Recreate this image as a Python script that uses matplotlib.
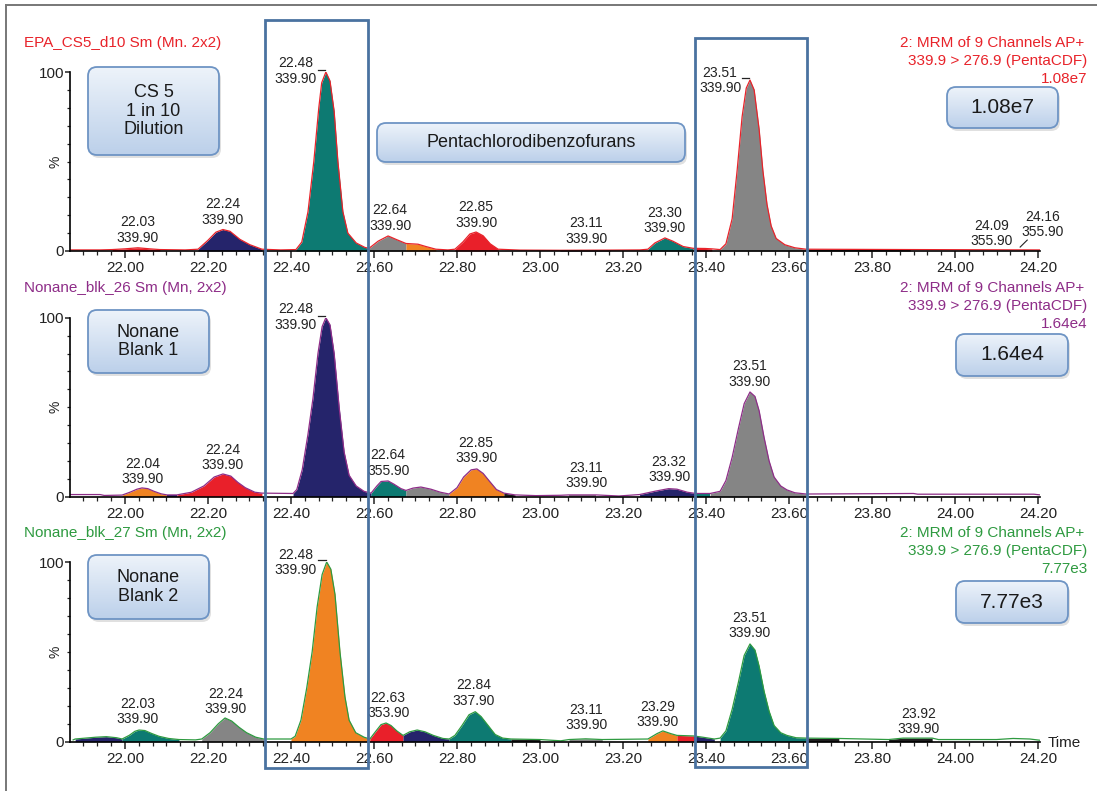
import numpy as np
import matplotlib.pyplot as plt
from matplotlib.patches import FancyBboxPatch, Rectangle
from matplotlib.colors import LinearSegmentedColormap
from matplotlib.ticker import MultipleLocator, FixedLocator

plt.rcParams['font.family'] = ['Liberation Sans', 'DejaVu Sans']

W, H = 1097, 791

# ---- chromatogram traces (time in min, intensity in %) ----
p1_trace = [(21.868, 0.6), (21.940, 0.6), (21.969, 0.8), (22.000, 1.2), (22.031, 1.8), (22.060, 1.2),
            (22.084, 0.8), (22.145, 0.6), (22.176, 1.0), (22.200, 6.0), (22.219, 10.5), (22.236, 12.0),
            (22.253, 11.0), (22.277, 6.5), (22.301, 3.5), (22.330, 1.0), (22.375, 0.6), (22.412, 0.8),
            (22.426, 5.0), (22.441, 22.0), (22.455, 50.0), (22.467, 80.0), (22.474, 94.0), (22.484, 100.0),
            (22.494, 95.0), (22.504, 78.0), (22.513, 50.0), (22.525, 22.0), (22.537, 10.0), (22.557, 4.5),
            (22.578, 2.0), (22.588, 1.5), (22.610, 5.5), (22.634, 8.4), (22.653, 6.5), (22.677, 4.2),
            (22.706, 3.8), (22.725, 2.5), (22.749, 1.0), (22.778, 0.6), (22.795, 1.0), (22.814, 5.0),
            (22.831, 9.5), (22.846, 10.6), (22.863, 8.5), (22.880, 4.0), (22.899, 1.0), (22.952, 0.5),
            (23.048, 0.4), (23.169, 0.5), (23.241, 0.6), (23.260, 1.0), (23.277, 4.5), (23.301, 7.3),
            (23.320, 5.5), (23.345, 2.5), (23.369, 1.5), (23.398, 1.4), (23.414, 1.2), (23.434, 0.8),
            (23.448, 4.0), (23.463, 18.0), (23.475, 45.0), (23.487, 75.0), (23.497, 91.0), (23.506, 95.5),
            (23.516, 90.0), (23.528, 68.0), (23.537, 45.0), (23.547, 26.0), (23.557, 14.0), (23.569, 7.0),
            (23.590, 3.5), (23.614, 1.8), (23.641, 1.0), (23.892, 0.8), (24.205, 0.6)]
p1_segs = [(21.969, 22.084, 'red'), (22.176, 22.330, 'navy'), (22.412, 22.588, 'teal'),
           (22.588, 22.677, 'gray'), (22.677, 22.749, 'orange'), (22.795, 22.899, 'red'),
           (23.048, 23.169, 'plum'), (23.260, 23.369, 'teal'), (23.369, 23.414, 'red'),
           (23.434, 23.641, 'gray'), (23.641, 23.892, 'black')]

p2_trace = [(21.868, 1.2), (21.940, 1.2), (21.950, 0.7), (21.993, 0.9), (22.012, 2.5), (22.029, 4.2),
            (22.041, 4.9), (22.055, 4.5), (22.070, 3.0), (22.087, 1.6), (22.101, 1.0), (22.125, 1.0),
            (22.160, 2.5), (22.190, 6.0), (22.215, 11.0), (22.236, 12.7), (22.255, 11.5), (22.272, 8.0),
            (22.290, 5.0), (22.313, 2.5), (22.330, 2.0), (22.405, 1.8), (22.414, 4.0), (22.427, 15.0),
            (22.441, 35.0), (22.453, 55.0), (22.465, 80.0), (22.475, 95.0), (22.484, 100.0), (22.494, 96.0),
            (22.504, 80.0), (22.516, 50.0), (22.528, 25.0), (22.540, 12.0), (22.557, 6.0), (22.576, 3.0),
            (22.593, 2.0), (22.607, 6.0), (22.617, 8.5), (22.634, 8.8), (22.648, 7.0), (22.665, 4.5),
            (22.677, 3.5), (22.694, 4.8), (22.713, 5.4), (22.737, 4.2), (22.760, 2.5), (22.781, 1.5),
            (22.800, 5.0), (22.816, 11.0), (22.834, 15.0), (22.848, 15.5), (22.863, 13.0), (22.877, 9.0),
            (22.895, 4.0), (22.913, 2.0), (22.940, 1.0), (22.990, 0.6), (23.050, 0.8), (23.070, 1.0),
            (23.135, 1.0), (23.190, 0.4), (23.240, 1.2), (23.280, 3.2), (23.310, 4.5), (23.330, 4.2),
            (23.355, 2.5), (23.375, 1.8), (23.410, 1.8), (23.434, 3.0), (23.448, 9.0), (23.463, 22.0),
            (23.478, 38.0), (23.492, 52.0), (23.506, 58.5), (23.518, 56.0), (23.528, 48.0), (23.540, 33.0),
            (23.552, 20.0), (23.564, 11.0), (23.580, 6.0), (23.595, 3.8), (23.614, 2.2), (23.641, 1.5),
            (23.900, 1.8), (23.910, 1.4), (24.190, 1.4), (24.205, 1.0)]
p2_segs = [(21.993, 22.101, 'orange'), (22.101, 22.125, 'navy'), (22.125, 22.330, 'red'),
           (22.405, 22.593, 'navy'), (22.593, 22.677, 'teal'), (22.677, 22.781, 'gray'),
           (22.781, 22.913, 'orange'), (22.913, 22.940, 'black'), (23.070, 23.135, 'gray'),
           (23.240, 23.375, 'navy'), (23.375, 23.410, 'teal'), (23.410, 23.641, 'gray')]

p3_trace = [(21.875, 1.0), (21.880, 1.5), (21.930, 2.5), (21.955, 2.8), (21.980, 2.2), (21.993, 1.5),
            (22.010, 3.5), (22.024, 5.8), (22.034, 6.5), (22.048, 6.2), (22.065, 4.5), (22.082, 3.0),
            (22.105, 1.8), (22.130, 1.2), (22.170, 1.0), (22.185, 1.5), (22.205, 5.0), (22.225, 10.0),
            (22.241, 13.2), (22.257, 11.5), (22.275, 8.0), (22.293, 5.0), (22.315, 2.5), (22.334, 1.5),
            (22.400, 1.5), (22.410, 3.0), (22.424, 12.0), (22.438, 30.0), (22.451, 50.0), (22.463, 75.0),
            (22.475, 93.0), (22.486, 100.0), (22.496, 96.0), (22.506, 82.0), (22.518, 50.0), (22.530, 25.0),
            (22.540, 12.0), (22.556, 5.0), (22.576, 2.5), (22.590, 1.5), (22.605, 6.0), (22.617, 9.5),
            (22.629, 10.4), (22.641, 9.0), (22.655, 6.0), (22.670, 3.5), (22.686, 5.5), (22.704, 6.5),
            (22.723, 5.5), (22.743, 3.5), (22.766, 1.8), (22.781, 1.5), (22.795, 3.5), (22.812, 9.0),
            (22.829, 15.0), (22.844, 16.7), (22.858, 14.0), (22.875, 9.0), (22.892, 4.0), (22.910, 2.0),
            (22.930, 1.5), (23.000, 1.2), (23.050, 0.5), (23.070, 1.2), (23.110, 1.6), (23.150, 1.2),
            (23.260, 1.5), (23.282, 4.5), (23.296, 6.0), (23.315, 4.5), (23.330, 3.5), (23.370, 3.2),
            (23.392, 2.5), (23.420, 1.5), (23.434, 2.0), (23.448, 6.0), (23.463, 18.0), (23.478, 33.0),
            (23.492, 48.0), (23.506, 54.4), (23.518, 51.0), (23.528, 42.0), (23.540, 28.0), (23.552, 17.0),
            (23.564, 9.0), (23.580, 5.0), (23.595, 3.5), (23.617, 2.2), (23.641, 2.0), (23.720, 1.8),
            (23.840, 1.2), (23.875, 2.0), (23.945, 2.0), (23.960, 1.2), (24.100, 1.2), (24.140, 1.8),
            (24.180, 1.5), (24.205, 0.8)]
p3_segs = [(21.880, 21.993, 'navy'), (21.993, 22.130, 'teal'), (22.185, 22.334, 'gray'),
           (22.400, 22.590, 'orange'), (22.590, 22.670, 'red'), (22.670, 22.781, 'navy'),
           (22.781, 22.930, 'teal'), (22.930, 23.000, 'black'), (23.070, 23.150, 'gray'),
           (23.260, 23.330, 'orange'), (23.330, 23.370, 'red'), (23.370, 23.420, 'navy'),
           (23.434, 23.641, 'teal'), (23.641, 23.720, 'black'), (23.840, 23.945, 'black')]

# ---- peak labels: (rt text, m/z text, label time, label height %) ----
p1_labels = [('22.03', '339.90', 22.031, 11.7), ('22.24', '339.90', 22.236, 21.8),
             ('22.48', '339.90', 22.412, 100.6), ('22.64', '339.90', 22.639, 18.4),
             ('22.85', '339.90', 22.846, 20.1), ('23.11', '339.90', 23.111, 11.2),
             ('23.30', '339.90', 23.301, 17.0), ('23.51', '339.90', 23.434, 95.3),
             ('24.09', '355.90', 24.089, 9.8), ('24.16', '355.90', 24.210, 14.8)]
p2_labels = [('22.04', '339.90', 22.043, 14.1), ('22.24', '339.90', 22.236, 21.9),
             ('22.48', '339.90', 22.412, 100.4), ('22.64', '355.90', 22.634, 18.8),
             ('22.85', '339.90', 22.846, 25.8), ('23.11', '339.90', 23.111, 11.8),
             ('23.32', '339.90', 23.311, 15.2), ('23.51', '339.90', 23.506, 68.5)]
p3_labels = [('22.03', '339.90', 22.031, 16.8), ('22.24', '339.90', 22.243, 22.4),
             ('22.48', '339.90', 22.412, 99.7), ('22.63', '353.90', 22.634, 20.1),
             ('22.84', '337.90', 22.841, 27.1), ('23.11', '339.90', 23.111, 13.5),
             ('23.29', '339.90', 23.284, 15.1), ('23.51', '339.90', 23.506, 64.7),
             ('23.92', '339.90', 23.913, 11.2)]
# apex markers drawn next to the tall labelled peaks (apex time, apex %)
p1_apex = [(22.484, 100.0), (23.506, 95.5)]
p2_apex = [(22.484, 100.0)]
p3_apex = [(22.486, 100.0)]

samples = ['EPA_CS5_d10 Sm (Mn. 2x2)', 'Nonane_blk_26 Sm (Mn, 2x2)', 'Nonane_blk_27 Sm (Mn, 2x2)']
channel = ['2: MRM of 9 Channels AP+', '339.9 > 276.9 (PentaCDF)']
maxima = ['1.08e7', '1.64e4', '7.77e3']
box_names = ['CS 5\n1 in 10\nDilution', 'Nonane\nBlank 1', 'Nonane\nBlank 2']

colors = {'teal': '#0d7a72', 'navy': '#25246b', 'gray': '#858585', 'orange': '#f08322',
          'red': '#e9202a', 'black': '#1d1d1d', 'plum': '#4d1a45'}
trace_col = ['#e8232a', '#8e2d88', '#2e9a40']

fig = plt.figure(figsize=(W / 100, H / 100), dpi=100)

# axes placement in pixels: (top of 100 %, bottom at 0 %)
panel_px = [(72.0, 251.0), (317.7, 496.7), (562.0, 741.7)]
left_px, right_px = 70.0, 1040.0
xlim = (21.8675, 24.2048)

traces = [p1_trace, p2_trace, p3_trace]
segs = [p1_segs, p2_segs, p3_segs]
labels = [p1_labels, p2_labels, p3_labels]
apexes = [p1_apex, p2_apex, p3_apex]

for i in range(3):
    top, bot = panel_px[i]
    ax = fig.add_axes([left_px / W, 1 - bot / H, (right_px - left_px) / W, (bot - top) / H])
    ax.patch.set_visible(False)
    tr = np.array(traces[i])
    t, y = tr[:, 0], tr[:, 1]
    for a, b, c in segs[i]:
        m = (t >= a - 1e-9) & (t <= b + 1e-9)
        ax.fill_between(t, 0, y, where=m, color=colors[c], lw=0, interpolate=False)
    ax.plot(t, y, color=trace_col[i], lw=0.9)
    for rt, mz, lt, ly in labels[i]:
        ax.text(lt, ly, rt + '\n' + mz, ha='center', va='center', fontsize=10,
                linespacing=1.15, color='#222222')
    for at, ay in apexes[i]:
        ax.plot([at - 0.02, at - 0.002], [ay + 1.2, ay + 1.2], color='#222222', lw=0.9, clip_on=False)
    if i == 0:
        ax.plot([24.157, 24.174], [2.2, 6.1], color='#222222', lw=0.8, clip_on=False)

    ax.set_xlim(*xlim)
    ax.set_ylim(0, 100)
    ax.spines['top'].set_visible(False)
    ax.spines['right'].set_visible(False)
    ax.spines['left'].set_linewidth(1.2)
    ax.spines['bottom'].set_linewidth(1.2)
    ticks = np.round(np.arange(22.0, 24.21, 0.2), 2)
    ax.set_xticks(ticks)
    ax.set_xticklabels(['%.2f' % v for v in ticks])
    ax.xaxis.set_minor_locator(MultipleLocator(1 / 30))
    ax.set_yticks([0, 100])
    ax.set_yticklabels(['0', '100'])
    ax.yaxis.set_minor_locator(FixedLocator(range(10, 100, 10)))
    ax.tick_params(axis='x', which='major', direction='out', length=5, width=1.1, pad=2.5,
                   labelsize=11, colors='#222222')
    ax.tick_params(axis='x', which='minor', direction='out', length=2.8, width=0.9, colors='#222222')
    ax.tick_params(axis='y', which='major', direction='out', length=3.8, width=1.1, pad=0.5,
                   labelsize=11, colors='#222222')
    ax.tick_params(axis='y', which='minor', direction='out', length=2.2, width=0.9, colors='#222222')

# ---- overlay in pixel coordinates for frame, boxes and headers ----
ov = fig.add_axes([0, 0, 1, 1], zorder=10)
ov.axis('off')

grad_cmap = LinearSegmentedColormap.from_list('boxgrad', ['#edf3fa', '#bcd0ea'])


def rbox(x0, y0, x1, y1, text, fs, ls=1.15):
    w, h = x1 - x0, y1 - y0
    shadow = FancyBboxPatch((x0 + 2, y0 + 3), w, h, boxstyle='round,pad=0,rounding_size=9',
                            fc='#000000', alpha=0.12, ec='none', zorder=1)
    ov.add_patch(shadow)
    im = ov.imshow(np.linspace(0, 1, 64).reshape(-1, 1), cmap=grad_cmap, extent=(x0, x1, y1, y0),
                   aspect='auto', interpolation='bilinear', zorder=2)
    box = FancyBboxPatch((x0, y0), w, h, boxstyle='round,pad=0,rounding_size=9',
                         fc='none', ec='#6e94c4', lw=1.3, zorder=3)
    ov.add_patch(box)
    im.set_clip_path(box)
    ov.text((x0 + x1) / 2, (y0 + y1) / 2, text, ha='center', va='center', fontsize=fs,
            linespacing=ls, color='#1a1a1a', zorder=4)


# outer frame (top and left edges)
ov.plot([6, W], [5, 5], color='#777777', lw=1.4)
ov.plot([6, 6], [5, H], color='#777777', lw=1.4)

rbox(88, 67, 219, 155, box_names[0], 13)
rbox(377, 123, 685, 162, 'Pentachlorodibenzofurans', 13)
rbox(947, 87, 1058, 128, maxima[0], 15)
rbox(88, 310, 209, 373, box_names[1], 13)
rbox(956, 334, 1068, 376, maxima[1], 15)
rbox(88, 555, 209, 619, box_names[2], 13)
rbox(956, 581, 1068, 623, maxima[2], 15)

# retention window rectangles
ov.add_patch(Rectangle((265, 20), 103, 748, fill=False, ec='#4a72a0', lw=2.0, zorder=5))
ov.add_patch(Rectangle((695, 38), 112, 729, fill=False, ec='#4a72a0', lw=2.0, zorder=5))

head_y = [43, 288, 533]
for i in range(3):
    hy = head_y[i]
    ov.text(24, hy, samples[i], ha='left', va='center', fontsize=11, color=trace_col[i])
    ov.text(1084, hy, channel[0], ha='right', va='center', fontsize=11, color=trace_col[i])
    ov.text(1087, hy + 18, channel[1], ha='right', va='center', fontsize=11, color=trace_col[i])
    ov.text(1087, hy + 36, maxima[i], ha='right', va='center', fontsize=11, color=trace_col[i])
    ymid = (panel_px[i][0] + panel_px[i][1]) / 2
    ov.text(55, ymid, '%', ha='center', va='center', fontsize=10, rotation=90, color='#222222')

ov.text(1048, 743, 'Time', ha='left', va='center', fontsize=11, color='#222222')

ov.set_xlim(0, W)
ov.set_ylim(H, 0)

fig.savefig('out.png', dpi=100, facecolor='white')
